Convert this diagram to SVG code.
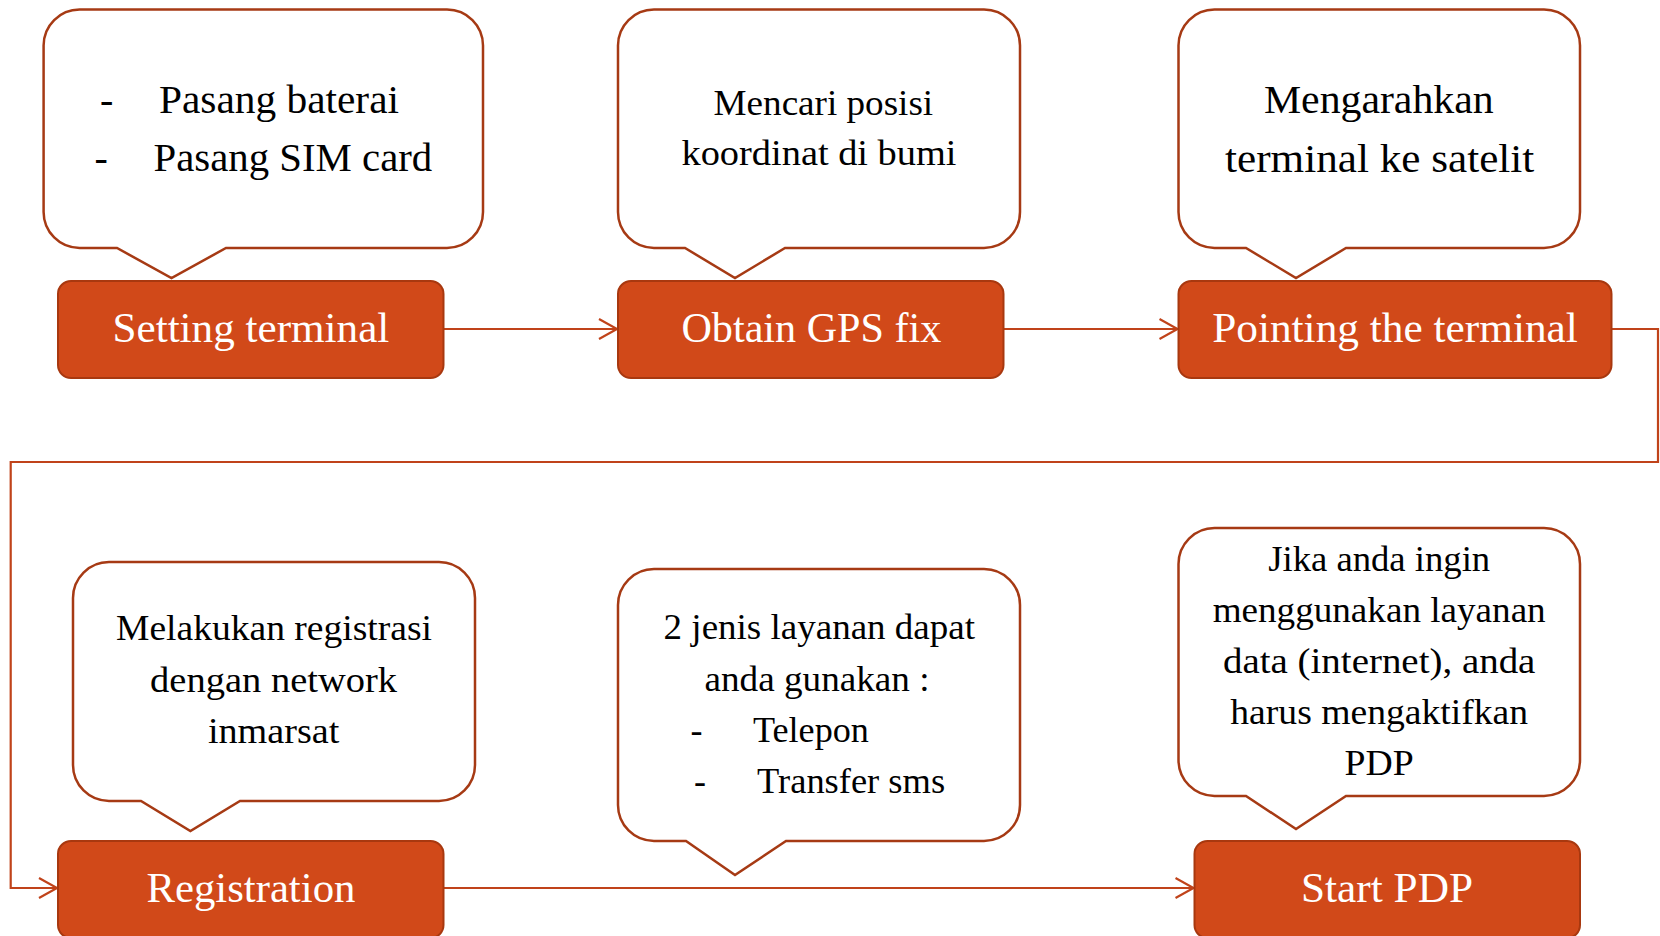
<svg xmlns="http://www.w3.org/2000/svg" width="1660" height="936" viewBox="0 0 1660 936">
<style>
.callout{fill:#ffffff;stroke:#A63A14;stroke-width:2.5;stroke-linejoin:miter}
.box{fill:#D14919;stroke:#A8380F;stroke-width:2}
.lbl{font-family:"Liberation Serif",serif;fill:#ffffff;font-size:42px;text-anchor:middle}
.ct{font-family:"Liberation Serif",serif;fill:#000000}
.mid{text-anchor:middle}
.conn{fill:none;stroke:#C0431A;stroke-width:2.2}
</style>
<defs>
<marker id="arr" markerUnits="userSpaceOnUse" markerWidth="22" markerHeight="24" refX="19" refY="11" orient="auto" viewBox="0 0 22 24">
<path d="M1,1 L19,11 L1,21" fill="none" stroke="#C0431A" stroke-width="2.2"/>
</marker>
</defs>
<g id="connectors">
<path class="conn" d="M443.5,329 H617" marker-end="url(#arr)"/>
<path class="conn" d="M1003.5,329 H1177.5" marker-end="url(#arr)"/>
<path class="conn" d="M1611.5,329 H1658 V462 H10.7 V888 H57" marker-end="url(#arr)"/>
<path class="conn" d="M443.5,888 H1193.5" marker-end="url(#arr)"/>
</g>
<g id="callout1">
<path class="callout" d="M79.6,9.5 H447 A36,36 0 0 1 483,45.5 V212 A36,36 0 0 1 447,248 H226 L171.5,278 L117,248 H79.6 A36,36 0 0 1 43.6,212 V45.5 A36,36 0 0 1 79.6,9.5 Z"/>
<text class="ct" font-size="40" x="100" y="113">-</text>
<text class="ct" font-size="40" x="159" y="113" textLength="240" lengthAdjust="spacingAndGlyphs">Pasang baterai</text>
<text class="ct" font-size="40" x="94.6" y="171">-</text>
<text class="ct" font-size="40" x="153.6" y="171" textLength="278.6" lengthAdjust="spacingAndGlyphs">Pasang SIM card</text>
</g>
<g id="callout2">
<path class="callout" d="M654,9.5 H984 A36,36 0 0 1 1020,45.5 V212 A36,36 0 0 1 984,248 H785 L735,278 L685,248 H654 A36,36 0 0 1 618,212 V45.5 A36,36 0 0 1 654,9.5 Z"/>
<text class="ct mid" font-size="36" x="823.4" y="115" textLength="219.6" lengthAdjust="spacingAndGlyphs">Mencari posisi</text>
<text class="ct mid" font-size="36" x="819" y="165" textLength="275" lengthAdjust="spacingAndGlyphs">koordinat di bumi</text>
</g>
<g id="callout3">
<path class="callout" d="M1214.5,9.5 H1544 A36,36 0 0 1 1580,45.5 V212 A36,36 0 0 1 1544,248 H1346 L1296,278 L1246,248 H1214.5 A36,36 0 0 1 1178.5,212 V45.5 A36,36 0 0 1 1214.5,9.5 Z"/>
<text class="ct mid" font-size="41" x="1378.8" y="113" textLength="229.7" lengthAdjust="spacingAndGlyphs">Mengarahkan</text>
<text class="ct mid" font-size="41" x="1379.7" y="172" textLength="309.3" lengthAdjust="spacingAndGlyphs">terminal ke satelit</text>
</g>
<g id="callout4">
<path class="callout" d="M109,562 H439 A36,36 0 0 1 475,598 V765 A36,36 0 0 1 439,801 H240 L190.4,831 L141,801 H109 A36,36 0 0 1 73,765 V598 A36,36 0 0 1 109,562 Z"/>
<text class="ct mid" font-size="36.5" x="274" y="640" textLength="316" lengthAdjust="spacingAndGlyphs">Melakukan registrasi</text>
<text class="ct mid" font-size="36.5" x="273.6" y="692" textLength="247" lengthAdjust="spacingAndGlyphs">dengan network</text>
<text class="ct mid" font-size="36.5" x="273.6" y="743" textLength="131.4" lengthAdjust="spacingAndGlyphs">inmarsat</text>
</g>
<g id="callout5">
<path class="callout" d="M654,569 H984 A36,36 0 0 1 1020,605 V805 A36,36 0 0 1 984,841 H786 L735,875 L686,841 H654 A36,36 0 0 1 618,805 V605 A36,36 0 0 1 654,569 Z"/>
<text class="ct mid" font-size="36" x="819.3" y="639" textLength="311.4" lengthAdjust="spacingAndGlyphs">2 jenis layanan dapat</text>
<text class="ct mid" font-size="36" x="817" y="691" textLength="225" lengthAdjust="spacingAndGlyphs">anda gunakan :</text>
<text class="ct" font-size="36" x="690.4" y="742">-</text>
<text class="ct" font-size="36" x="752.9" y="742" textLength="116" lengthAdjust="spacingAndGlyphs">Telepon</text>
<text class="ct" font-size="36" x="693.9" y="793">-</text>
<text class="ct" font-size="36" x="757.1" y="793" textLength="188" lengthAdjust="spacingAndGlyphs">Transfer sms</text>
</g>
<g id="callout6">
<path class="callout" d="M1214.5,528 H1544 A36,36 0 0 1 1580,564 V760 A36,36 0 0 1 1544,796 H1346 L1296,829 L1246,796 H1214.5 A36,36 0 0 1 1178.5,760 V564 A36,36 0 0 1 1214.5,528 Z"/>
<text class="ct mid" font-size="36.5" x="1379.2" y="571" textLength="222" lengthAdjust="spacingAndGlyphs">Jika anda ingin</text>
<text class="ct mid" font-size="36.5" x="1379.2" y="622" textLength="333" lengthAdjust="spacingAndGlyphs">menggunakan layanan</text>
<text class="ct mid" font-size="36.5" x="1379.2" y="673" textLength="312.4" lengthAdjust="spacingAndGlyphs">data (internet), anda</text>
<text class="ct mid" font-size="36.5" x="1379.2" y="724" textLength="297.9" lengthAdjust="spacingAndGlyphs">harus mengaktifkan</text>
<text class="ct mid" font-size="36.5" x="1379.2" y="775" textLength="69.2" lengthAdjust="spacingAndGlyphs">PDP</text>
</g>
<g id="setting-terminal">
<rect class="box" x="58" y="281" width="385.5" height="97" rx="13"/>
<text class="lbl" x="250.9" y="342" textLength="276.8" lengthAdjust="spacingAndGlyphs">Setting terminal</text>
</g>
<g id="obtain-gps-fix">
<rect class="box" x="618" y="281" width="385.5" height="97" rx="13"/>
<text class="lbl" x="811.4" y="342" textLength="260" lengthAdjust="spacingAndGlyphs">Obtain GPS fix</text>
</g>
<g id="pointing-the-terminal">
<rect class="box" x="1178.5" y="281" width="433" height="97" rx="13"/>
<text class="lbl" x="1395" y="342" textLength="365.7" lengthAdjust="spacingAndGlyphs">Pointing the terminal</text>
</g>
<g id="registration">
<rect class="box" x="58" y="841" width="385.5" height="97" rx="13"/>
<text class="lbl" x="250.9" y="902" textLength="209" lengthAdjust="spacingAndGlyphs">Registration</text>
</g>
<g id="start-pdp">
<rect class="box" x="1194.5" y="841" width="385.5" height="97" rx="13"/>
<text class="lbl" x="1387" y="902" textLength="172" lengthAdjust="spacingAndGlyphs">Start PDP</text>
</g>
</svg>
